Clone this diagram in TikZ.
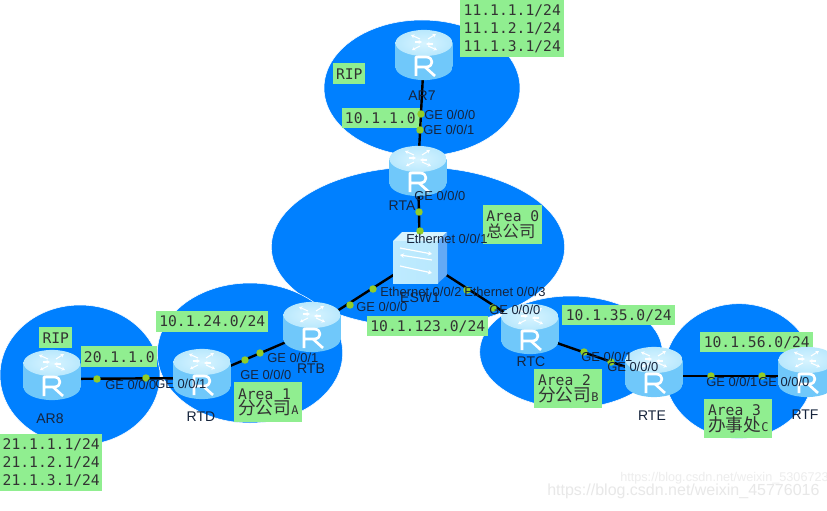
\documentclass[tikz,border=0pt]{standalone}
\usepackage{fontspec}
\setmainfont{Liberation Sans}
\newfontfamily\monof{DejaVu Sans Mono}
\newfontfamily\cjkf{Noto Sans CJK SC}
\pgfdeclarelayer{areas}
\pgfdeclarelayer{links}
\pgfsetlayers{areas,links,main}
\definecolor{areablue}{RGB}{0,128,255}
\definecolor{labgreen}{RGB}{144,238,144}
\definecolor{portgreen}{RGB}{145,205,40}
\definecolor{inktext}{RGB}{22,36,60}
\definecolor{rside}{RGB}{112,200,250}
\definecolor{rmid}{RGB}{190,235,255}
\definecolor{rtop}{RGB}{185,232,253}
\definecolor{rtopin}{RGB}{215,244,255}
\definecolor{swside}{RGB}{100,170,245}
\newcommand{\routericon}{%
  \begin{scope}[shift={(path picture bounding box.center)}]
    \shade[left color=rside,middle color=rmid,right color=rside]
      (0,12) ellipse [x radius=21.4pt,y radius=9.8pt];
    \shade[left color=rside,middle color=rmid,right color=rside]
      (-28.5,-12) rectangle (28.5,12);
    \shade[inner color=rtopin,outer color=rtop] (0,-12) ellipse [x radius=21.4pt,y radius=9.8pt];
    \begin{scope}[white,line width=0.8pt,-{Stealth[length=2.6pt,width=3pt]}]
      \draw (-4,-16) -- (-13,-20);
      \draw (4,-16) -- (12,-21);
      \draw (-4,-9) -- (-12,-5);
      \draw (4,-9) -- (13,-5);
      \draw (-9,-13) -- (-2,-13);
      \draw (9,-11) -- (2,-11);
    \end{scope}
    \draw[white,line width=2pt,line join=round]
      (-8,21) -- (-8,2) -- (2,2) .. controls (10,2) and (10,12) .. (2,12) -- (-8,12)
      (1,12) -- (11,21);
  \end{scope}}
\newcommand{\switchicon}{%
  \begin{scope}[shift={(path picture bounding box.center)}]
    \fill[rtopin] (-27,-17) -- (-18,-26) -- (27,-26) -- (18,-17) -- cycle;
    \shade[left color=rmid,right color=rtop] (-27,-17) rectangle (18,25);
    \fill[swside] (18,-17) -- (27,-26) -- (27,17) -- (18,25) -- cycle;
    \begin{scope}[white,line width=0.9pt,-{Stealth[length=3pt,width=3.5pt]}]
      \draw (-20,-10) -- (12,-4);
      \draw (12,2) -- (-20,-3);
      \draw (-20,8) -- (12,15);
    \end{scope}
  \end{scope}}
\newcommand{\cjktext}[1]{{\cjkf\fontsize{13.3}{14}\selectfont #1}}
\newcommand{\cjksmall}[1]{{\cjkf\fontsize{12.3}{14}\selectfont #1}}
\newcommand{\smallsuffix}[1]{{\fontsize{9}{14}\selectfont #1}}
\tikzset{
  x=0.75pt,y=-0.75pt,
  area/.style={ellipse,fill=areablue,draw=white,line width=0.4pt,inner sep=0pt},
  gbox/.style 2 args={fill=labgreen,inner sep=0pt,anchor=north west,minimum width=#1*0.75pt,minimum height=#2*0.75pt,
    text=black!80,align=left,font=\monof\fontsize{11}{13.5}\selectfont},
  routernode/.style={rectangle,inner sep=0pt,minimum width=42.75pt,minimum height=38.25pt,path picture={\routericon}},
  switchnode/.style={rectangle,inner sep=0pt,minimum width=40.5pt,minimum height=39pt,path picture={\switchicon}},
  link/.style={line width=1.8pt,black},
  portdot/.style={circle,fill=portgreen,inner sep=0pt,minimum size=5.6pt},
  portlab/.style={anchor=west,inner sep=0pt,text=inktext,font=\fontsize{9.7}{11}\selectfont},
  devlab/.style={inner sep=0pt,text=inktext,font=\fontsize{10.5}{12}\selectfont},
}
\usetikzlibrary{shapes.geometric,arrows.meta}
\begin{document}
\begin{tikzpicture}
\useasboundingbox (0,0) rectangle (827,510);
\begin{pgfonlayer}{areas}
  \fill[white] (0,0) rectangle (827,510);
  \node[area,minimum width=147pt,minimum height=102pt] (ripTop) at (422,88) {};
  \node[area,minimum width=220pt,minimum height=120pt] (area0) at (418,247) {};
  \node[area,minimum width=120pt,minimum height=105pt] (ripLeft) at (80,375) {};
  \node[area,minimum width=139pt,minimum height=105pt] (area1) at (250,353) {};
  \node[area,minimum width=137pt,minimum height=84pt] (area2) at (571,352) {};
  \node[area,minimum width=112pt,minimum height=101pt] (area3) at (739,371) {};
  \node[gbox={104}{57}] (b11) at (460,0) {11.1.1.1/24\\11.1.2.1/24\\11.1.3.1/24};
  \node[gbox={32}{21}] (bRipT) at (333,63) {RIP};
  \node[gbox={80}{20}] (b10110) at (342,108) {10.1.1.0\hspace{3pt}};
  \node[gbox={59}{39}] (bA0) at (483,205) {Area 0\\[-2pt]\cjksmall{总公司}};
  \node[gbox={121}{20}] (b123) at (367,316) {10.1.123.0/24};
  \node[gbox={112}{21}] (b24) at (156,311) {10.1.24.0/24};
  \node[gbox={33}{21}] (bRipL) at (39,327) {RIP};
  \node[gbox={76}{21}] (b20) at (81,346) {20.1.1.0};
  \node[gbox={68}{40}] (bA1) at (234,382) {Area 1\\[-2pt]\cjktext{分公司}\smallsuffix{A}};
  \node[gbox={102}{57}] (b21) at (0,434) {21.1.1.1/24\\21.1.2.1/24\\21.1.3.1/24};
  \node[gbox={113}{20}] (b35) at (562,305) {10.1.35.0/24};
  \node[gbox={113}{20}] (b56) at (700,332) {10.1.56.0/24};
  \node[gbox={68}{39}] (bA2) at (534,369) {Area 2\\[-2pt]\cjktext{分公司}\smallsuffix{B}};
  \node[gbox={68}{39}] (bA3) at (704,399) {Area 3\\[-2pt]\cjktext{办事处}\smallsuffix{C}};
\end{pgfonlayer}

\node[routernode] (ar7) at (424,55) {};
\node[routernode] (rta) at (418,171) {};
\node[routernode] (rtb) at (312,327) {};
\node[routernode] (rtd) at (202,374) {};
\node[routernode] (ar8) at (52,375) {};
\node[routernode] (rtc) at (530,329) {};
\node[routernode] (rte) at (654,372) {};
\node[routernode] (rtf) at (807,372) {};
\node[switchnode] (esw) at (420,258) {};

\begin{pgfonlayer}{links}
  \draw[link] (ar7.center) -- (rta.center);
  \draw[link] (rta.center) -- (esw.center);
  \draw[link] (esw.center) -- (rtb.center);
  \draw[link] (esw.center) -- (rtc.center);
  \draw[link] ([yshift=-3pt]rtb.center) -- ([yshift=-3pt]rtd.center);
  \draw[link] ([yshift=-3pt]rtd.center) -- ([yshift=-3pt]ar8.center);
  \draw[link] ([yshift=-3.5pt]rtc.center) -- ([yshift=-3.5pt]rte.center);
  \draw[link] ([yshift=-3pt]rte.center) -- ([yshift=-3pt]rtf.center);
\end{pgfonlayer}

\foreach \nm/\px/\py in {d1/421/114,d2/420/130,d3/419/212,d4/420/231,d5/373/289,d6/350/305,
  d7/467/290,d8/493/308,d9/245/360,d10/260/353,d11/97/379,d12/146/378,
  d13/584/352,d14/611/362,d15/711/376,d16/762/376}
  {\node[portdot] (\nm) at (\px,\py) {};}

\node[portlab] (p1) at (424,115) {GE 0/0/0};
\node[portlab] (p2) at (423,130) {GE 0/0/1};
\node[portlab] (p3) at (414,196) {GE 0/0/0};
\node[portlab] (p4) at (406,239) {Ethernet 0/0/1};
\node[portlab] (p5) at (380,292) {Ethernet 0/0/2};
\node[portlab] (p6) at (356,307) {GE 0/0/0};
\node[portlab] (p7) at (464,292) {Ethernet 0/0/3};
\node[portlab] (p8) at (489,310) {GE 0/0/0};
\node[portlab] (p9) at (267,358) {GE 0/0/1};
\node[portlab] (p10) at (240,375) {GE 0/0/0};
\node[portlab] (p11) at (105,385) {GE 0/0/0};
\node[portlab] (p12) at (155,384) {GE 0/0/1};
\node[portlab] (p13) at (581,357) {GE 0/0/1};
\node[portlab] (p14) at (607,367) {GE 0/0/0};
\node[portlab] (p15) at (706,382) {GE 0/0/1};
\node[portlab] (p16) at (758,382) {GE 0/0/0};

\node[devlab] (nAR7) at (422,96) {AR7};
\node[devlab] (nRTA) at (402,206) {RTA};
\node[devlab] (nESW) at (420,298) {ESW1};
\node[devlab] (nRTB) at (311,369) {RTB};
\node[devlab] (nRTD) at (201,417) {RTD};
\node[devlab] (nAR8) at (50,419) {AR8};
\node[devlab] (nRTC) at (531,362) {RTC};
\node[devlab] (nRTE) at (652,416) {RTE};
\node[devlab] (nRTF) at (805,415) {RTF};

\node[inner sep=0pt,anchor=west,text=black!9,font=\fontsize{12}{14}\selectfont] (wm1) at (547,491) {https://blog.csdn.net/weixin\_45776016};
\node[inner sep=0pt,anchor=west,text=black!7,font=\fontsize{9.5}{11}\selectfont] (wm2) at (620,478) {https://blog.csdn.net/weixin\_5306723};
\end{tikzpicture}
\end{document}
